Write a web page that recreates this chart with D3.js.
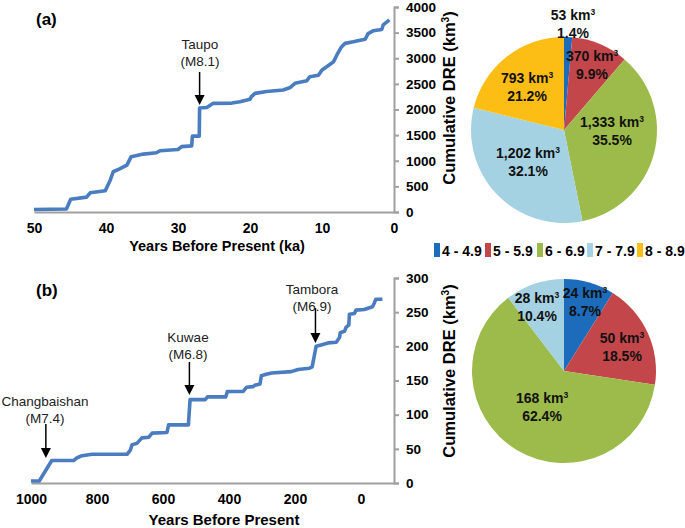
<!DOCTYPE html>
<html>
<head>
<meta charset="utf-8">
<script src="https://cdn.jsdelivr.net/npm/d3@7"></script>
<style>
  html, body { margin: 0; padding: 0; background: #fff; }
  svg { display: block; font-family: "Liberation Sans", Arial, Helvetica, sans-serif; }
</style>
</head>
<body>
<svg id="chart" width="685" height="528"></svg>
<script>
// ---------- DATA ----------
// (a) cumulative DRE over last 50 ka: [years before present (ka), cumulative km3]
const seriesA = [
  [50,50],[45.5,60],[44.9,250],[42.7,290],[42.2,375],[40.1,415],[39.4,625],[39,785],
  [38.1,840],[37.1,915],[36.5,1080],[34.8,1130],[33,1155],[32.5,1195],[30,1220],
  [29.5,1275],[28.1,1290],[28,1480],[27.05,1480],[27,2030],[26,2040],[25.1,2120],
  [22.5,2125],[21.4,2150],[20,2200],[19.8,2250],[19.3,2315],[17.7,2350],[15.4,2380],
  [14.4,2430],[13.75,2510],[12.1,2560],[11.7,2640],[10.5,2670],[10,2770],[9.35,2835],
  [8.4,2930],[7.95,3060],[7.3,3220],[6.8,3290],[5.65,3320],[4.7,3350],[4,3370],
  [3.6,3480],[2.9,3535],[1.7,3560],[1.5,3650],[0.8,3730],[0.65,3751]
];
// (b) cumulative DRE over last ~1000 years: [years before present, cumulative km3]
const seriesB = [
  [1000,3],[975,3],[937,33],[870,33],[860,37],[845,40],[815,42],[709,42],[699,48],
  [694,56],[679,58],[664,66],[643,67],[633,73],[588,74],[583,85],[523,85],[518,122],
  [472,122],[465,126],[410,126],[405,134],[357,134],[347,140],[327,141],[322,143],
  [306,145],[302,157],[287,159],[271,161],[211,163],[191,166],[156,168],[148,170],
  [136,200],[121,202],[100,205],[75,206],[65,213],[63,220],[50,222],[45,228],[37,231],
  [35,247],[20,248],[15,253],[-10,254],[-35,258],[-40,263],[-45,269],[-65,269]
];
const ticksAx = [50, 40, 30, 20, 10, 0];
const ticksAy = [0, 500, 1000, 1500, 2000, 2500, 3000, 3500, 4000];
const ticksBx = [1000, 800, 600, 400, 200, 0];
const ticksBy = [0, 50, 100, 150, 200, 250, 300];

const annotationsA = [{name: "Taupo", mag: "(M8.1)", year: 27}];
const annotationsB = [
  {name: "Changbaishan", mag: "(M7.4)", year: 955},
  {name: "Kuwae", mag: "(M6.8)", year: 520},
  {name: "Tambora", mag: "(M6.9)", year: 138}
];

const magClasses = ["4 - 4.9", "5 - 5.9", "6 - 6.9", "7 - 7.9", "8 - 8.9"];
const classColors = ["#1c6cbb", "#c3464a", "#9dbb4a", "#a5d2e3", "#fcbd14"];
const pieA = [53, 370, 1333, 1202, 793];
const pieAlabels = ["53 km³", "370 km³", "1,333 km³", "1,202 km³", "793 km³"];
const pieApct = ["1.4%", "9.9%", "35.5%", "32.1%", "21.2%"];
const pieB = [24, 50, 168, 28, 0];
const pieBlabels = ["24 km³", "50 km³", "168 km³", "28 km³", ""];
const pieBpct = ["8.7%", "18.5%", "62.4%", "10.4%", ""];

// ---------- DRAW ----------
const svg = d3.select("#chart");
const axisColor = "#a0a0a0";
const lineColor = "#4a7dc0";

function panel(cfg) {
  const x = d3.scaleLinear().domain(cfg.xDomain).range(cfg.xRange);
  const y = d3.scaleLinear().domain(cfg.yDomain).range(cfg.yRange);
  const g = svg.append("g");

  // y axis on right
  const yAx = g.append("g").attr("transform", `translate(${cfg.xRange[1]},0)`)
    .call(d3.axisRight(y).tickValues(cfg.yTicks).tickSize(5).tickPadding(7).tickFormat(d3.format("d")));
  yAx.select(".domain").attr("stroke", axisColor).attr("stroke-width", 2);
  yAx.selectAll(".tick line").attr("stroke", axisColor).attr("stroke-width", 2);
  yAx.selectAll("text").attr("fill", "#000").attr("font-size", 13.5).attr("font-weight", "bold")
    .attr("font-family", "Liberation Sans, Arial, sans-serif");

  // x axis
  const xAx = g.append("g").attr("transform", `translate(0,${cfg.yRange[0]})`)
    .call(d3.axisBottom(x).tickValues(cfg.xTicks).tickSize(0).tickPadding(11).tickFormat(d3.format("d")));
  xAx.select(".domain").attr("stroke", axisColor).attr("stroke-width", 2);
  xAx.selectAll("text").attr("fill", "#000").attr("font-size", 14).attr("font-weight", "bold")
    .attr("font-family", "Liberation Sans, Arial, sans-serif");

  // line
  const line = d3.line().x(d => x(d[0])).y(d => y(d[1]));
  g.append("path").datum(cfg.data).attr("d", line)
    .attr("fill", "none").attr("stroke", lineColor).attr("stroke-width", 3.6)
    .attr("stroke-linejoin", "round");

  // titles
  g.append("text").attr("x", cfg.xTitlePos[0]).attr("y", cfg.xTitlePos[1])
    .attr("text-anchor", "middle").attr("font-size", cfg.xTitleSize).attr("font-weight", "bold")
    .text(cfg.xTitle);
  const yt = g.append("text").attr("transform", `translate(${cfg.yTitlePos[0]},${cfg.yTitlePos[1]}) rotate(-90)`)
    .attr("text-anchor", "middle").attr("font-size", 16.5).attr("font-weight", "bold");
  yt.append("tspan").text("Cumulative DRE (km");
  yt.append("tspan").attr("font-size", 10).attr("dy", -6).text("3");
  yt.append("tspan").attr("dy", 6).text(")");

  g.append("text").attr("x", cfg.panelPos[0]).attr("y", cfg.panelPos[1])
    .attr("font-size", 17).attr("font-weight", "bold").text(cfg.panelLabel);

  // annotations
  cfg.ann.forEach((a, i) => {
    const p = cfg.annPos[i];
    const ax = x(a.year);
    g.append("text").attr("x", p.tx).attr("y", p.ty).attr("text-anchor", "middle")
      .attr("font-size", 13.5).attr("fill", "#222").text(a.name);
    g.append("text").attr("x", p.tx).attr("y", p.ty + 17).attr("text-anchor", "middle")
      .attr("font-size", 13.5).attr("fill", "#222").text(a.mag);
    g.append("line").attr("x1", ax).attr("x2", ax).attr("y1", p.y1).attr("y2", p.y2 - 8)
      .attr("stroke", "#000").attr("stroke-width", 1.5);
    g.append("path").attr("d", `M${ax - 5},${p.y2 - 10} L${ax + 5},${p.y2 - 10} L${ax},${p.y2} Z`)
      .attr("fill", "#000");
  });
}

panel({
  data: seriesA, xDomain: [50, 0], xRange: [34, 394], yDomain: [0, 4000], yRange: [212, 7],
  xTicks: ticksAx, yTicks: ticksAy, xTitle: "Years Before Present (ka)", xTitleSize: 14.5,
  xTitlePos: [217, 251], yTitlePos: [455, 98], panelLabel: "(a)", panelPos: [36, 25],
  ann: annotationsA, annPos: [{tx: 200, ty: 49, y1: 72, y2: 105}]
});
panel({
  data: seriesB, xDomain: [1000, -100], xRange: [31, 394], yDomain: [0, 300], yRange: [483, 278],
  xTicks: ticksBx, yTicks: ticksBy, xTitle: "Years Before Present", xTitleSize: 15,
  xTitlePos: [224, 525], yTitlePos: [455, 371], panelLabel: "(b)", panelPos: [36, 296],
  ann: annotationsB, annPos: [
    {tx: 45, ty: 406, y1: 424, y2: 458},
    {tx: 188, ty: 342, y1: 362, y2: 395},
    {tx: 312, ty: 294, y1: 308, y2: 343}
  ]
});

// pies
function pie(values, labels, pcts, cx, cy, r, labelPos) {
  const arcs = d3.pie().sort(null).value(d => d)(values);
  const arc = d3.arc().innerRadius(0).outerRadius(r);
  const g = svg.append("g").attr("transform", `translate(${cx},${cy})`);
  g.selectAll("path").data(arcs).enter().append("path")
    .attr("d", arc).attr("fill", (d, i) => classColors[i]);
  labels.forEach((l, i) => {
    if (!l) return;
    const p = labelPos[i];
    const t = svg.append("text").attr("x", p[0]).attr("y", p[1]).attr("text-anchor", "middle")
      .attr("font-size", 14).attr("font-weight", "bold").attr("fill", "#111");
    t.append("tspan").text(l.replace("³", ""));
    t.append("tspan").attr("font-size", 8.5).attr("dy", -5).text("3");
    svg.append("text").attr("x", p[0]).attr("y", p[1] + 18).attr("text-anchor", "middle")
      .attr("font-size", 14).attr("font-weight", "bold").attr("fill", "#111").text(pcts[i]);
  });
}
pie(pieA, pieAlabels, pieApct, 564, 130, 93,
  [[573, 20], [592, 61], [612, 127], [528, 158], [527, 83]]);
pie(pieB, pieBlabels, pieBpct, 564, 371, 92,
  [[585, 298], [622, 343], [542, 403], [537, 303]]);

// legend
const legX = [434, 485, 537, 587, 637];
const leg = svg.append("g");
magClasses.forEach((m, i) => {
  leg.append("rect").attr("x", legX[i]).attr("y", 243).attr("width", 6).attr("height", 14)
    .attr("fill", classColors[i]);
  leg.append("text").attr("x", legX[i] + 8).attr("y", 255.5).attr("font-size", 14)
    .attr("font-weight", "bold").text(m);
});
</script>
</body>
</html>
